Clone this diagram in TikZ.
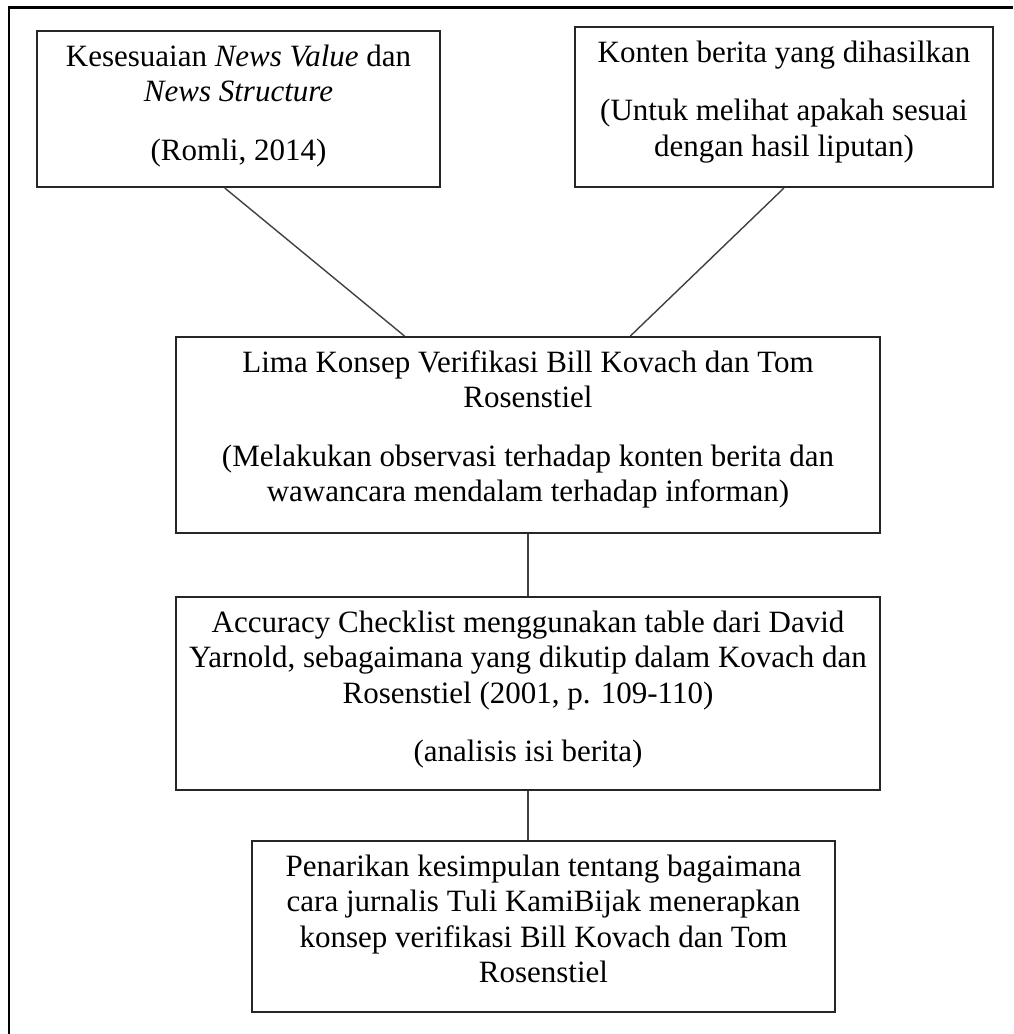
\documentclass[tikz,border=0pt]{standalone}
\usepackage{fontspec}
\setmainfont{Liberation Serif}
\usetikzlibrary{calc}

\tikzset{
  stagebox/.style={draw=black!85, line width=1pt, inner sep=0pt, fill=white},
  link/.style={draw=black!75, line width=0.7pt},
}
% body of a box: width, height, text (top aligned, centred lines)
\newcommand{\boxbody}[3]{\parbox[c][#2][t]{#1}{\fontsize{15.5}{17.75}\selectfont\centering
  \vspace*{5.1pt}\strut #3\par}}

\begin{document}
\begin{tikzpicture}[x=0.5pt, y=-0.5pt]
    \useasboundingbox (0,0) rectangle (1013,1034);

    % outer frame (only left and top edges are visible)
    \draw[line width=1.2pt] (9,1034) -- (9,7.5) -- (1013,7.5);

    % the two sources on top
    \node[stagebox] (value) at (238.5,109)
        {\boxbody{201.5pt}{78pt}{Kesesuaian \emph{News Value} dan\\ \emph{News Structure}\\[11.5pt] (Romli, 2014)}};
    \node[stagebox] (content) at (784,107)
        {\boxbody{209pt}{80pt}{Konten berita yang dihasilkan\\[11.5pt] (Untuk melihat apakah sesuai\\ dengan hasil liputan)}};

    % verification concept
    \node[stagebox] (concept) at (528,435)
        {\boxbody{352pt}{98pt}{Lima Konsep Verifikasi Bill Kovach dan Tom\\ Rosenstiel\\[11.5pt] (Melakukan observasi terhadap konten berita dan\\ wawancara mendalam terhadap informan)}};

    % checklist
    \node[stagebox] (checklist) at (528,693.5)
        {\boxbody{352pt}{96.5pt}{Accuracy Checklist menggunakan table dari David\\ Yarnold, sebagaimana yang dikutip dalam Kovach dan\\ Rosenstiel (2001, p. 109-110)\\[11.5pt] (analisis isi berita)}};

    % conclusion
    \node[stagebox] (result) at (543.5,926.5)
        {\boxbody{291.5pt}{85.5pt}{Penarikan kesimpulan tentang bagaimana\\ cara jurnalis Tuli KamiBijak menerapkan\\ konsep verifikasi Bill Kovach dan Tom\\ Rosenstiel}};

    % connectors
    \draw[link] ($(value.south west)!0.466!(value.south east)$) -- ($(concept.north west)!0.325!(concept.north east)$);
    \draw[link] (content.south) -- ($(concept.north west)!0.645!(concept.north east)$);
    \draw[link] (concept.south) -- (checklist.north);
    \draw[link] (checklist.south) -- (checklist.south |- result.north);

\end{tikzpicture}
\end{document}
